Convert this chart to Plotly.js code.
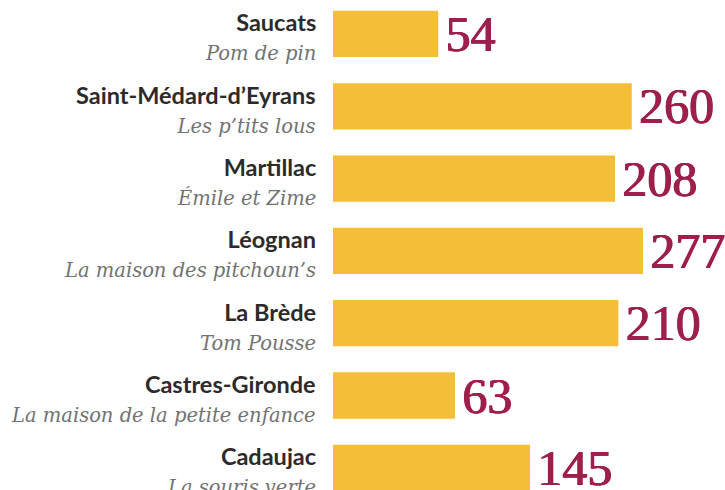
<!DOCTYPE html>
<html><head><meta charset="utf-8">
<script src="https://cdn.plot.ly/plotly-3.0.1.min.js"></script>
<style>html,body{margin:0;padding:0;background:#fff}#chart{width:725px;height:490px}</style>
</head><body><div id="chart"></div>
<script>
const communes = ["Saucats", "Saint-Médard-d’Eyrans", "Martillac", "Léognan", "La Brède", "Castres-Gironde", "Cadaujac"];
const structures = ["Pom de pin", "Les p’tits lous", "Émile et Zime", "La maison des pitchoun’s", "Tom Pousse", "La maison de la petite enfance", "La souris verte"];
const counts = [54, 260, 208, 277, 210, 63, 145];
const barLengths = [94, 267, 252, 277, 255, 109, 176];

const labelTexts = communes.map((c, i) =>
  '<span style="font-family:Lato;font-weight:bold;font-size:23.5px;color:#2e2a2b">' + c + '</span><br>' +
  '<span style="font-family:\'DejaVu Serif\';font-style:italic;font-size:19.5px;color:#727272">' + structures[i] + '</span>'
);

const trace = {
  type: 'bar',
  orientation: 'h',
  y: communes,
  x: barLengths,
  text: counts.map(v => '\u200A' + v),
  textposition: 'outside',
  constraintext: 'none',
  cliponaxis: false,
  textfont: {family: 'Liberation Serif', size: 50, color: '#9e1f48',
             shadow: '0.8px 0 0 #9e1f48, -0.4px 0 0 #9e1f48'},
  marker: {color: '#f5be37'},
  hoverinfo: 'none'
};

const annotations = communes.map((c, i) => ({
  xref: 'paper', x: 0, xanchor: 'right', xshift: -15,
  yref: 'y', y: c, yanchor: 'middle', yshift: -3,
  text: labelTexts[i], showarrow: false, align: 'right',
  font: {family: 'Lato', size: 22, color: '#2e2a2b'}
}));

const layout = {
  width: 725, height: 490,
  margin: {l: 333, r: 0, t: 0, b: 0, pad: 0},
  paper_bgcolor: '#ffffff', plot_bgcolor: '#ffffff',
  bargap: 0.36,
  showlegend: false,
  annotations: annotations,
  xaxis: {range: [0, 350.3], visible: false, fixedrange: true},
  yaxis: {
    type: 'category',
    range: [6.307, -0.47],
    showticklabels: false,
    ticks: '', showline: false, showgrid: false, zeroline: false,
    fixedrange: true
  }
};

Plotly.newPlot('chart', [trace], layout, {displayModeBar: false, staticPlot: true});
</script>
</body></html>
